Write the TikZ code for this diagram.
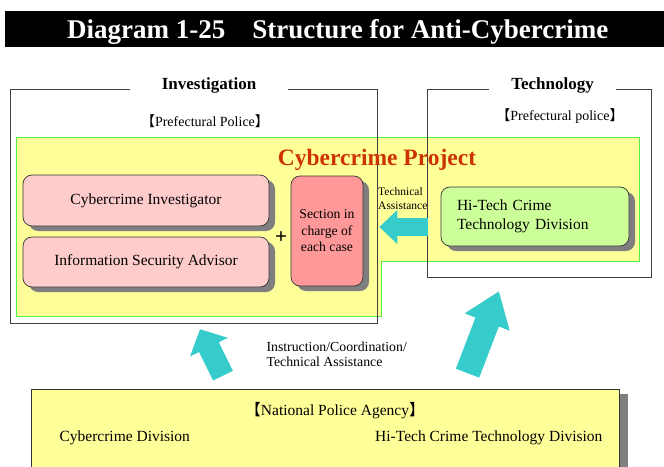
\documentclass[tikz,border=0pt]{standalone}
\usepackage{fontspec}
\setmainfont{Liberation Serif}
\newfontfamily\cjk{Noto Sans CJK JP}
\usetikzlibrary{arrows.meta,shadows}

\definecolor{paleyellow}{HTML}{FFFF99}
\definecolor{limeline}{HTML}{55EE44}
\definecolor{framegray}{HTML}{404040}
\definecolor{shadowgray}{HTML}{7F7F7F}
\definecolor{palepink}{HTML}{FFCCCC}
\definecolor{salmonpink}{HTML}{FF9999}
\definecolor{palegreen}{HTML}{CCFF99}
\definecolor{tealcyan}{HTML}{36CCCC}
\definecolor{projectred}{HTML}{CC3300}

\newcommand{\lbr}{{\cjk 【}}
\newcommand{\rbr}{{\cjk 】}}

\tikzset{
  unitbox/.style={draw=black!80, line width=0.7pt, rounded corners=9pt,
    drop shadow={shadow xshift=6pt, shadow yshift=-5pt, fill=shadowgray, opacity=1}},
  agencybox/.style={draw=black!80, line width=0.7pt, fill=paleyellow,
    drop shadow={shadow xshift=9pt, shadow yshift=-5pt, fill=shadowgray, opacity=1}},
  frameline/.style={draw=framegray, line width=0.8pt},
  framelabel/.style={font=\bfseries\fontsize{17}{20}\selectfont, inner sep=0pt, anchor=base},
  blockarrow/.style={draw=tealcyan}
}

\begin{document}
\begin{tikzpicture}[x=1pt,y=-1pt,font=\fontsize{15.5}{19}\selectfont]
\useasboundingbox (0,0) rectangle (664,466);
\fill[black] (5,11) rectangle (664,47);
\node[text=white, font=\bfseries\fontsize{27}{30}\selectfont, anchor=base west, inner sep=0pt] (title) at (67,38)
  {Diagram 1-25\hspace{27pt}Structure for Anti-Cybercrime};

\node[minimum width=366pt, minimum height=234pt, inner sep=0pt] (inv) at (194,206) {};
\node[minimum width=223pt, minimum height=188pt, inner sep=0pt] (tech) at (539.5,183) {};

\filldraw[fill=paleyellow, draw=limeline, line width=0.8pt]
  (16,137) -- (639,137) -- (639,261) -- (381,261) -- (381,316) -- (16,316) -- cycle;

\node[framelabel, minimum width=157pt] (invlab) at (209,89) {Investigation};
\node[framelabel, minimum width=127pt] (techlab) at (552.5,89) {Technology};
\draw[frameline] (invlab.base west) -| (inv.south west) -- (inv.south east) |- (invlab.base east);
\draw[frameline] (techlab.base west) -| (tech.south west) -- (tech.south east) |- (techlab.base east);

\node[font=\fontsize{14}{16}\selectfont] (prefinv) at (205,121) {\lbr Prefectural Police\rbr};
\node[font=\fontsize{14}{16}\selectfont] (preftech) at (560,116) {\lbr Prefectural police\rbr};

\node[text=projectred, font=\bfseries\fontsize{23.5}{26}\selectfont] (project) at (377,160) {Cybercrime Project};

\node[unitbox, fill=palepink, minimum width=246pt, minimum height=51pt] (investigator) at (146,200.5) {Cybercrime Investigator};
\node[unitbox, fill=palepink, minimum width=246pt, minimum height=50pt] (advisor) at (146,262) {Information Security Advisor};
\node[font=\bfseries\fontsize{21}{22}\selectfont] (plus) at (281,238) {+};
\node[unitbox, fill=salmonpink, minimum width=72pt, minimum height=110pt, align=center,
  font=\fontsize{13.7}{16.5}\selectfont] (section) at (327,231) {Section in\\charge of\\each case};
\node[unitbox, fill=palegreen, text width=156pt, inner xsep=16pt, minimum height=59pt, align=left] (hitech) at (535,216.5)
  {\raisebox{-3pt}{Hi-Tech Crime}\\\raisebox{-3pt}{Technology Division}};

\node[anchor=west, align=left, inner sep=0pt, font=\fontsize{11.5}{14}\selectfont] (assist) at (378,199) {Technical\\Assistance};
\draw[blockarrow, line width=18pt, -{Triangle[length=18pt,width=33pt]}, shorten <=13pt, shorten >=16pt]
  ([yshift=-10.5pt]hitech.west) -- ([yshift=4pt]section.east);

\node[agencybox, minimum width=588pt, minimum height=100pt] (national) at (325,439) {};
\node (npa) at (335,411) {\lbr National Police Agency\rbr};
\node[anchor=west] (ccdiv) at (56,438) {Cybercrime Division};
\node[anchor=east] (htdiv) at (606,438) {Hi-Tech Crime Technology Division};

\node[anchor=west, align=left, font=\fontsize{13.8}{15}\selectfont] (instr) at (263,354.5)
  {Instruction/Coordination/\\Technical Assistance};
\draw[blockarrow, line width=22pt, -{Triangle[length=20pt,width=41pt]}, shorten <=14.5pt, shorten >=6.7pt]
  ([xshift=-95.6pt]national.north) -- ([xshift=3.1pt]inv.south);
\draw[blockarrow, line width=25pt, -{Triangle[length=33pt,width=46pt]}, shorten <=16.6pt, shorten >=15pt]
  ([xshift=136.6pt]national.north) -- ([xshift=-35.2pt]tech.south);
\end{tikzpicture}
\end{document}
